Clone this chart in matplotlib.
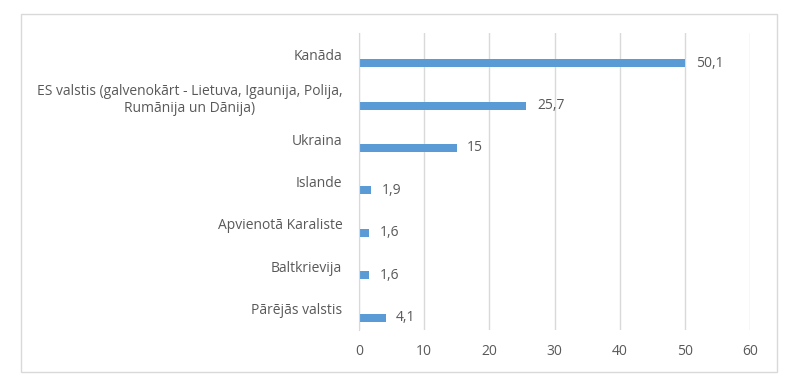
import matplotlib.pyplot as plt
from matplotlib.patches import Rectangle

# Dati
kategorijas = [
    "Kanāda",
    "ES valstis (galvenokārt - Lietuva, Igaunija, Polija,\nRumānija un Dānija)",
    "Ukraina",
    "Islande",
    "Apvienotā Karaliste",
    "Baltkrievija",
    "Pārējās valstis",
]
vertibas = [50.1, 25.7, 15, 1.9, 1.6, 1.6, 4.1]
vertibu_teksti = ["50,1", "25,7", "15", "1,9", "1,6", "1,6", "4,1"]
x_ticks = [0, 10, 20, 30, 40, 50, 60]

bar_color = "#5B9BD5"
text_color = "#595959"
grid_color = "#D9D9D9"

plt.rcParams['font.family'] = ['Open Sans', 'DejaVu Sans']

fig = plt.figure(figsize=(8, 3.92), dpi=100)

# Ārējais rāmis
fig.patches.append(Rectangle((21 / 800, 1 - 372 / 392), 756 / 800, 358 / 392,
                             transform=fig.transFigure, fill=False,
                             edgecolor=grid_color, linewidth=1))

ax = fig.add_axes([359 / 800, 1 - 330 / 392, 391 / 800, 297 / 392])

y = list(range(len(kategorijas)))
offset = 0.21
ax.barh([p + offset for p in y], vertibas, height=0.19, color=bar_color)

for p, v, t in zip(y, vertibas, vertibu_teksti):
    ax.text(v + 1.6, p + offset, t, va='center', ha='left',
            fontsize=10, color=text_color)

ax.set_xlim(0, 60)
ax.set_ylim(len(kategorijas) - 0.5, -0.5)
ax.set_xticks(x_ticks)
ax.set_yticks(y)
ax.set_yticklabels(kategorijas, multialignment='center')
ax.tick_params(axis='both', length=0, colors=text_color, labelsize=10)
ax.tick_params(axis='y', pad=12)
ax.tick_params(axis='x', pad=10)

ax.grid(axis='x', color=grid_color, linewidth=1)
ax.set_axisbelow(True)
for s in ['top', 'right', 'bottom']:
    ax.spines[s].set_visible(False)
ax.spines['left'].set_color(grid_color)

plt.savefig("out.png", dpi=100)
